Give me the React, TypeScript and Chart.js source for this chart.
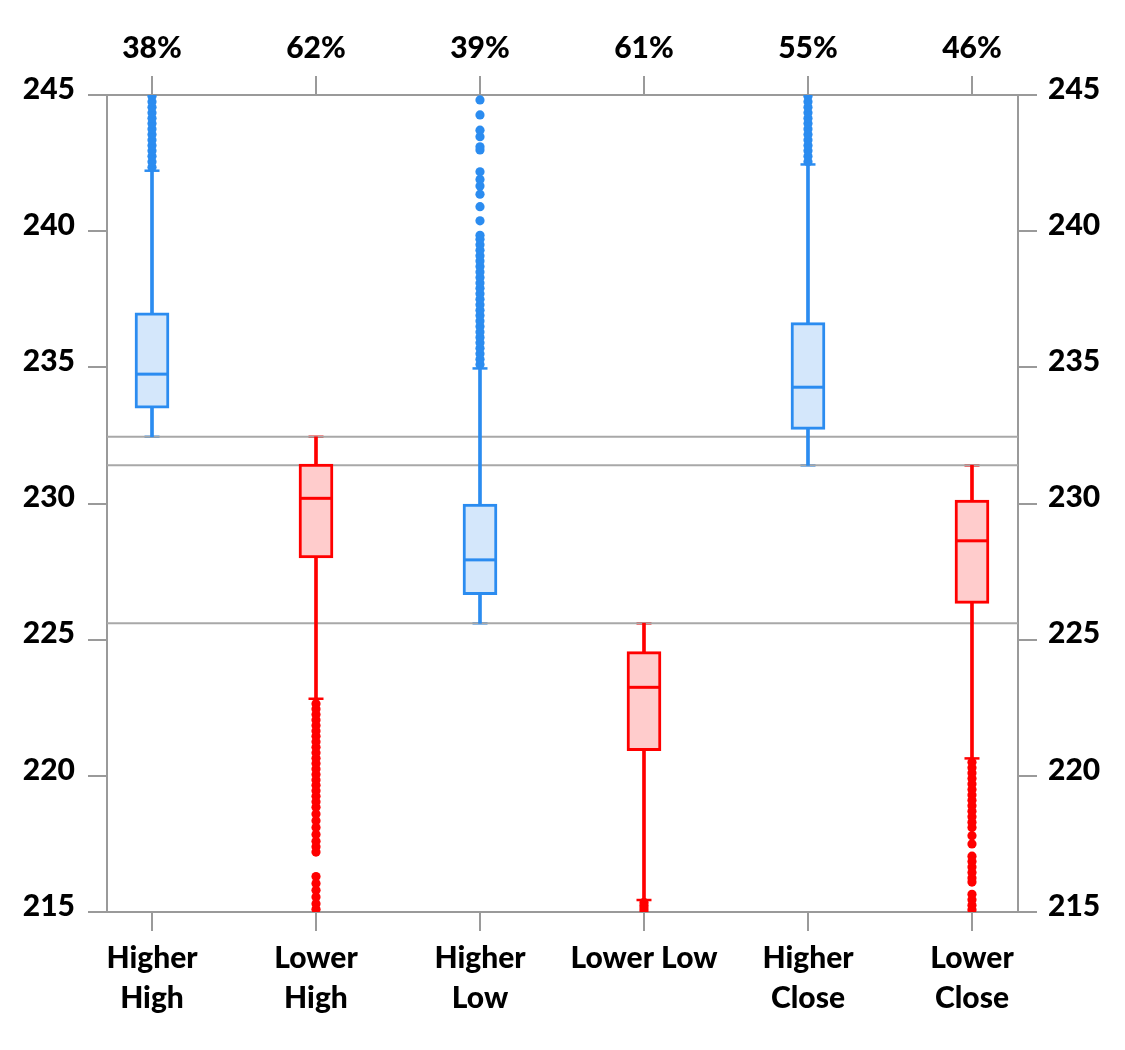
import React, { useEffect, useRef } from "react";
import { Chart, registerables } from "chart.js";

Chart.register(...registerables);

// ---------- data ----------
const categories: string[][] = [
  ["Higher", "High"],
  ["Lower", "High"],
  ["Higher", "Low"],
  ["Lower Low"],
  ["Higher", "Close"],
  ["Lower", "Close"],
];
const percentLabels = ["38%", "62%", "39%", "61%", "55%", "46%"];
const yTickValues = [215, 220, 225, 230, 235, 240, 245];

const whiskerLow = [232.45, 222.83, 225.6, 215.44, 231.4, 220.64];
const boxQ1 = [233.5, 228.0, 226.65, 220.92, 232.72, 226.33];
const boxMedian = [234.75, 230.19, 227.93, 223.25, 234.27, 228.63];
const boxQ3 = [237.0, 231.45, 229.98, 224.56, 236.64, 230.13];
const whiskerHigh = [242.22, 232.45, 234.96, 225.6, 242.45, 231.4];

const outliersHigherHigh = [242.35, 242.55, 242.75, 242.95, 243.15, 243.35, 243.55, 243.75, 243.95, 244.15, 244.35, 244.55, 244.75, 244.95];
const outliersLowerHigh = [222.65, 222.45, 222.25, 222.05, 221.85, 221.65, 221.45, 221.25, 221.05, 220.85, 220.65, 220.45, 220.25, 220.05, 219.85, 219.65, 219.45, 219.25, 219.05, 218.85, 218.6, 218.35, 218.1, 217.85, 217.6, 217.4, 217.2, 216.3, 216.05, 215.8, 215.55, 215.3, 215.1];
const outliersHigherLow = [235.1, 235.3, 235.5, 235.7, 235.9, 236.1, 236.3, 236.5, 236.7, 236.9, 237.1, 237.3, 237.5, 237.7, 237.9, 238.1, 238.3, 238.5, 238.7, 238.9, 239.1, 239.3, 239.5, 239.7, 239.85, 240.38, 240.9, 241.36, 241.66, 241.9, 242.18, 242.98, 243.1, 243.47, 243.71, 244.27, 244.82];
const outliersLowerLow = [215.35, 215.25, 215.15, 215.05];
const outliersHigherClose = [242.55, 242.75, 242.95, 243.15, 243.35, 243.55, 243.75, 243.95, 244.15, 244.35, 244.55, 244.75, 244.95];
const outliersLowerClose = [220.5, 220.3, 220.1, 219.9, 219.7, 219.5, 219.3, 219.1, 218.9, 218.7, 218.5, 218.3, 218.1, 217.8, 217.5, 217.05, 216.85, 216.65, 216.45, 216.25, 216.1, 215.65, 215.45, 215.25, 215.08];

const referenceLevels = [232.45, 231.4, 225.6];

// ---------- styles ----------
const BLUE = "#2b8cf0";
const BLUE_FILL = "#d4e7fb";
const RED = "#ff0000";
const RED_FILL = "#ffcccc";
const AXIS = "#9a9a9a";
const REF = "#a8a8a8";
const FONT = "Lato, 'Noto Sans', sans-serif";
const X_MIN = -0.2744;
const X_MAX = 5.2806;

export default function App() {
  const ref = useRef<HTMLCanvasElement>(null);

  useEffect(() => {
    if (!ref.current) return;
    const idx = categories.map((_, i) => i);
    const strokeColors = idx.map((i) => (i % 2 === 0 ? BLUE : RED));
    const fillColors = idx.map((i) => (i % 2 === 0 ? BLUE_FILL : RED_FILL));
    const outlierSets = [
      outliersHigherHigh,
      outliersLowerHigh,
      outliersHigherLow,
      outliersLowerLow,
      outliersHigherClose,
      outliersLowerClose,
    ];

    const datasets: any[] = [];

    // whiskers
    datasets.push({
      type: "bar",
      data: idx.map((i) => ({ x: i, y: [whiskerLow[i], whiskerHigh[i]] })),
      backgroundColor: strokeColors,
      borderWidth: 0,
      barThickness: 3,
      grouped: false,
      order: 3,
    });
    // caps
    datasets.push({
      type: "scatter",
      data: [
        ...idx.map((i) => ({ x: i, y: whiskerLow[i] })),
        ...idx.map((i) => ({ x: i, y: whiskerHigh[i] })),
      ],
      pointStyle: "line",
      pointRadius: 7.5,
      pointHoverRadius: 7.5,
      pointBorderWidth: 2.5,
      pointBorderColor: [...strokeColors, ...strokeColors],
      order: 5,
    });
    // reference lines
    referenceLevels.forEach((lv) => {
      datasets.push({
        type: "line",
        data: [
          { x: X_MIN, y: lv },
          { x: X_MAX, y: lv },
        ],
        borderColor: REF,
        borderWidth: 2,
        pointRadius: 0,
        fill: false,
        order: 4,
      });
    });
    // boxes
    datasets.push({
      type: "bar",
      data: idx.map((i) => ({ x: i, y: [boxQ1[i], boxQ3[i]] })),
      backgroundColor: fillColors,
      borderColor: strokeColors,
      borderWidth: 3,
      borderSkipped: false,
      barThickness: 34,
      grouped: false,
      order: 2,
    });
    // medians
    datasets.push({
      type: "scatter",
      data: idx.map((i) => ({ x: i, y: boxMedian[i] })),
      pointStyle: "line",
      pointRadius: 15.5,
      pointHoverRadius: 15.5,
      pointBorderWidth: 3,
      pointBorderColor: strokeColors,
      order: 1,
    });
    // outliers
    outlierSets.forEach((arr, i) => {
      datasets.push({
        type: "scatter",
        data: arr.map((v) => ({ x: i, y: v })),
        pointRadius: 4.6,
        pointHoverRadius: 4.6,
        pointBorderWidth: 0,
        pointBackgroundColor: strokeColors[i],
        clip: 0,
        order: 0,
      });
    });

    const tickFont = { family: FONT, size: 30, weight: "900" as any };

    const chart = new Chart(ref.current, {
      type: "bar",
      data: { datasets },
      options: {
        responsive: false,
        animation: false,
        events: [],
        layout: { padding: 0 },
        plugins: { legend: { display: false }, tooltip: { enabled: false } },
        scales: {
          x: {
            type: "linear",
            position: "bottom",
            min: X_MIN,
            max: X_MAX,
            offset: false,
            afterBuildTicks: (s: any) => {
              s.ticks = idx.map((v) => ({ value: v }));
            },
            afterFit: (s: any) => {
              s.height = 138;
            },
            grid: { drawOnChartArea: false, offset: false, color: AXIS, lineWidth: 2, tickLength: 19 },
            border: { color: AXIS, width: 2 },
            ticks: {
              autoSkip: false,
              maxRotation: 0,
              padding: 7,
              color: "#000",
              font: { ...tickFont, lineHeight: 40 / 30 },
              callback: (v: any) => categories[Math.round(Number(v))],
            },
          },
          x2: {
            type: "linear",
            position: "top",
            min: X_MIN,
            max: X_MAX,
            offset: false,
            afterBuildTicks: (s: any) => {
              s.ticks = idx.map((v) => ({ value: v }));
            },
            afterFit: (s: any) => {
              s.height = 95;
            },
            grid: { drawOnChartArea: false, offset: false, color: AXIS, lineWidth: 2, tickLength: 19 },
            border: { color: AXIS, width: 2 },
            ticks: {
              autoSkip: false,
              maxRotation: 0,
              padding: 10,
              color: "#000",
              font: { ...tickFont, lineHeight: 1.2 },
              callback: (v: any) => percentLabels[Math.round(Number(v))],
            },
          },
          y: {
            type: "linear",
            position: "left",
            min: 215,
            max: 245,
            afterBuildTicks: (s: any) => {
              s.ticks = yTickValues.map((v) => ({ value: v }));
            },
            afterFit: (s: any) => {
              s.width = 107;
            },
            grid: { drawOnChartArea: false, color: AXIS, lineWidth: 2, tickLength: 19 },
            border: { color: AXIS, width: 2 },
            ticks: {
              padding: 13,
              color: "#000",
              font: { ...tickFont, lineHeight: 0.4 },
              callback: (v: any) => [String(v), ""],
            },
          },
          y2: {
            type: "linear",
            position: "right",
            min: 215,
            max: 245,
            afterBuildTicks: (s: any) => {
              s.ticks = yTickValues.map((v) => ({ value: v }));
            },
            afterFit: (s: any) => {
              s.width = 107;
            },
            grid: { drawOnChartArea: false, color: AXIS, lineWidth: 2, tickLength: 19 },
            border: { color: AXIS, width: 2 },
            ticks: {
              padding: 11,
              color: "#000",
              font: { ...tickFont, lineHeight: 0.4 },
              callback: (v: any) => [String(v), ""],
            },
          },
        },
      } as any,
    });
    return () => chart.destroy();
  }, []);

  return (
    <div style={{ position: "absolute", left: 0, top: 0, width: 1125, height: 1050, background: "#fff" }}>
      <canvas ref={ref} width={1125} height={1050} style={{ display: "block", width: 1125, height: 1050 }} />
    </div>
  );
}
